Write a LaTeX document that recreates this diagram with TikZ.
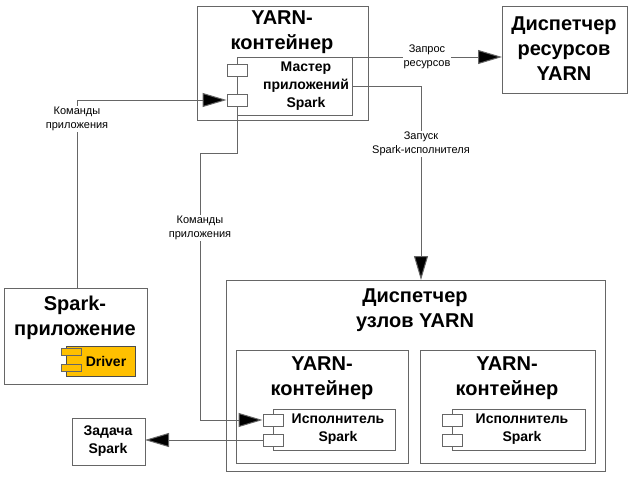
\documentclass[tikz,border=0pt]{standalone}
\usepackage{fontspec}
\setmainfont{Liberation Sans}
\usetikzlibrary{arrows.meta,positioning}

\definecolor{drvyellow}{HTML}{FFC000}
\tikzset{
    box/.style={draw=black!60, fill=white, line width=1pt},
    port/.style={draw=black!60, fill=white, line width=1pt, minimum width=20pt, minimum height=12pt, inner sep=0pt},
    bigtitle/.style={font=\fontsize{20}{25}\selectfont\bfseries, align=center},
    comptitle/.style={font=\fontsize{14}{18}\selectfont\bfseries, align=center},
    lbl/.style={font=\fontsize{11}{14}\selectfont, fill=white, align=center, inner sep=1pt},
    link/.style={draw=black!60, line width=1pt, -{Triangle[length=24pt,width=14pt,fill=black]}},
}

\begin{document}
\begin{tikzpicture}[x=1pt,y=-1pt]
    \useasboundingbox (0,0) rectangle (633,479);

    % YARN container with the application master
    \draw [box] (197,6) rectangle (368,120);
    \node [bigtitle] (amc) at (282,32) {YARN-\\контейнер};
    \draw [box] (237,57) rectangle (352,115);
    \node [comptitle] (am) at (306,86) {Мастер\\приложений\\Spark};
    \node [port] (amp1) at (237,70) {};
    \node [port] (amp2) at (237,100) {};

    % resource manager
    \draw [box] (502,6) rectangle (627,93);
    \node [bigtitle] (rm) at (564,49) {Диспетчер\\ресурсов\\YARN};
    \coordinate (rmin) at (502,57);

    % spark application
    \draw [box] (4,288) rectangle (147,384);
    \node [bigtitle] (app) at (75,318) {Spark-\\приложение};
    \draw [draw=black!70, line width=1pt, fill=drvyellow] (66,346) rectangle (135,376);
    \node [comptitle] (drv) at (106,361) {Driver};
    \node [port, fill=drvyellow, minimum height=7pt] (drvp1) at (71,352) {};
    \node [port, fill=drvyellow, minimum height=7pt] (drvp2) at (71,368) {};

    % node manager
    \draw [box] (226,280) rectangle (605,471);
    \node [bigtitle] (nm) at (415,310) {Диспетчер\\узлов YARN};
    \coordinate (nmin) at (421,280);

    \draw [box] (236,350) rectangle (408,463);
    \node [bigtitle] (ycA) at (322,378) {YARN-\\контейнер};
    \draw [box] (273,409) rectangle (395,450);
    \node [comptitle] (exA) at (338,429) {Исполнитель\\Spark};
    \node [port] (exAp1) at (273,420) {};
    \node [port] (exAp2) at (273,440) {};

    \draw [box] (420,350) rectangle (595,463);
    \node [bigtitle] (ycB) at (507,378) {YARN-\\контейнер};
    \draw [box] (452,409) rectangle (585,450);
    \node [comptitle] (exB) at (522,429) {Исполнитель\\Spark};
    \node [port] (exBp1) at (452,420) {};
    \node [port] (exBp2) at (452,440) {};

    % task
    \draw [box] (72,418) rectangle (145,465);
    \node [comptitle] (task) at (108,441) {Задача\\Spark};
    \coordinate (taskin) at (145,440);

    % connectors
    \draw [link] (352,57) -- node [lbl] {Запрос\\ресурсов} (rmin);
    \draw [link] (352,86) -- (421,86) -- node [lbl, pos=0.3] {Запуск\\Spark-исполнителя} (nmin);
    \draw [link] (77,288) -- node [lbl, pos=0.9] {Команды\\приложения} (77,100) -- (amp2.west);
    \draw [link] (amp2.south) -- (237,153) -- (200,153) -- node [lbl, pos=0.28] {Команды\\приложения} (200,420) -- (exAp1.west);
    \draw [link] (exAp2.west) -- (taskin);
\end{tikzpicture}
\end{document}
